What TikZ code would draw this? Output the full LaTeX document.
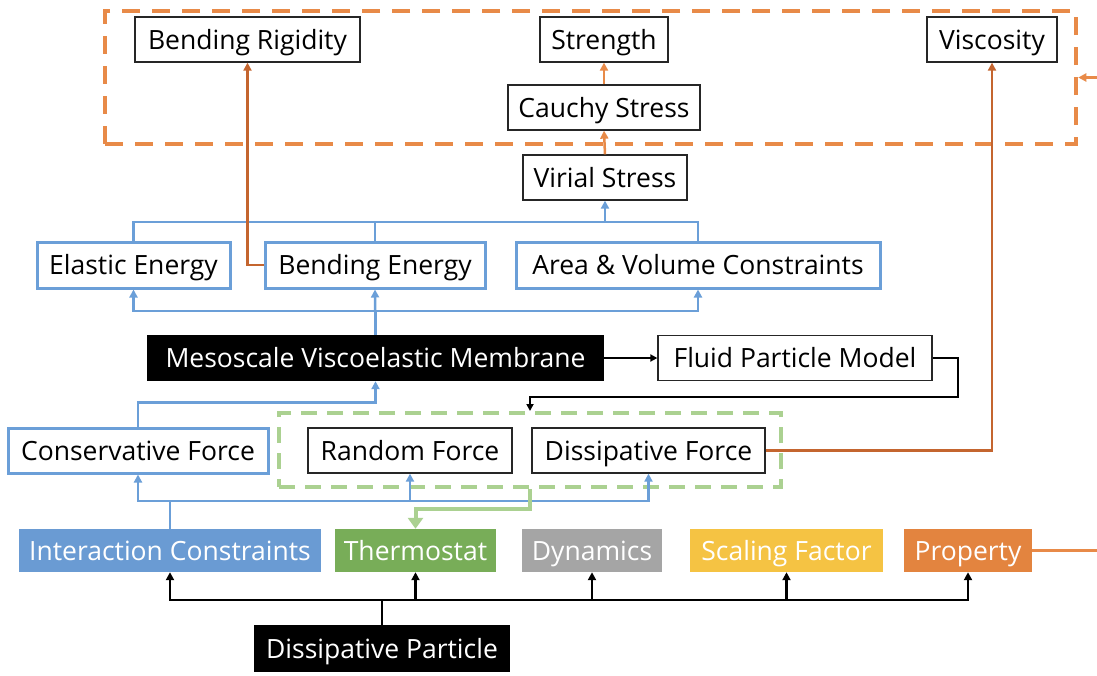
\documentclass[tikz,border=0pt]{standalone}
\usepackage{fontspec}
\setmainfont{Open Sans}
\usetikzlibrary{arrows.meta}
\definecolor{cblue}{HTML}{6A9BD3}
\definecolor{cbluel}{HTML}{6B9FD8}
\definecolor{cgreen}{HTML}{78AD58}
\definecolor{cgreenl}{HTML}{ABD191}
\definecolor{cgray}{HTML}{A5A5A5}
\definecolor{cyellow}{HTML}{F5C343}
\definecolor{corange}{HTML}{E3843F}
\definecolor{corangel}{HTML}{E88A48}
\definecolor{cdark}{HTML}{C4652F}
\begin{document}
\begin{tikzpicture}[x=1pt,y=-1pt,
  txt/.style={font=\fontsize{26.5}{30}\selectfont, text height=22pt, text depth=3pt},
  box/.style={txt, draw=black!85, line width=1.3pt, fill=white, inner sep=0pt, minimum height=45pt},
  bbox/.style={box, draw=cbluel, line width=3pt},
  fbox/.style={txt, draw=none, fill=#1, text=white, inner sep=0pt, minimum height=43pt},
  odash/.style={draw=corangel, line width=4.5pt, dash pattern=on 18pt off 12pt, inner sep=0pt},
  gdash/.style={draw=cgreenl, line width=4pt, dash pattern=on 16pt off 10pt, inner sep=0pt},
  arr/.style={-{Triangle[length=8pt,width=8pt]}},
  bl/.style={draw=cbluel, line width=2.5pt},
  blk/.style={draw=black, line width=2.5pt},
  ol/.style={draw=corangel, line width=2.5pt},
  dol/.style={draw=cdark, line width=2.5pt},
  gl/.style={draw=cgreenl, line width=4pt, -{Triangle[length=11pt,width=15pt]}}]
\clip (0,0) rectangle (1097,675);
\fill[white] (0,0) rectangle (1097,675);
% dashed groups
\node[odash, minimum width=971pt, minimum height=133pt] (ob) at (590.5,77.5) {};
\node[gdash, minimum width=502pt, minimum height=74pt] (gb) at (530,450) {};
% top boxes
\node[box, minimum width=225pt] (br) at (247.5,39.5) {Bending Rigidity};
\node[box, minimum width=128pt] (st) at (604,39.5) {Strength};
\node[box, minimum width=130pt] (vi) at (992,39.5) {Viscosity};
\node[box, minimum width=192pt] (cs) at (604,107.5) {Cauchy Stress};
\node[box, minimum width=164pt] (vs) at (605,177.5) {Virial Stress};
% energies
\node[bbox, minimum width=193pt, minimum height=46pt] (ee) at (133.5,265) {Elastic Energy};
\node[bbox, minimum width=220pt, minimum height=46pt] (be) at (375,265) {Bending Energy};
\node[bbox, minimum width=364pt, minimum height=46pt] (av) at (698,265) {Area \& Volume Constraints};
% membrane
\node[fbox=black, minimum width=457pt, minimum height=46pt] (mm) at (375.5,358) {Mesoscale Viscoelastic Membrane};
\node[box, minimum width=274pt] (fp) at (795,358) {Fluid Particle Model};
% forces
\node[bbox, minimum width=260pt] (cf) at (138,450.5) {Conservative Force};
\node[box, minimum width=204pt] (rf) at (410,450.5) {Random Force};
\node[box, minimum width=233pt] (df) at (648.5,450.5) {Dissipative Force};
% categories
\node[fbox=cblue, minimum width=302pt] (ic) at (170,550.5) {Interaction Constraints};
\node[fbox=cgreen, minimum width=161pt] (th) at (415.5,550.5) {Thermostat};
\node[fbox=cgray, minimum width=140pt] (dy) at (592,550.5) {Dynamics};
\node[fbox=cyellow, minimum width=193pt] (sf) at (786.5,550.5) {Scaling Factor};
\node[fbox=corange, minimum width=128pt] (pr) at (968,550.5) {Property};
\node[fbox=black, minimum width=256pt, minimum height=47pt] (dp) at (382,648.5) {Dissipative Particle};
% helper coordinates
\coordinate (kb) at (0,600);
\coordinate (bb) at (0,501);
\coordinate (eb) at (0,222);
\coordinate (fr) at (958,397);
% black bus
\foreach \n in {ic,th,dy,sf,pr}
  \draw[blk,arr] (dp.north) -- (dp.north |- kb) -| (\n.south);
% blue bus to forces
\foreach \n in {cf,rf,df}
  \draw[bl,arr] (ic.north) -- (ic.north |- bb) -| (\n.south);
% green thermostat link
\draw[gl] (gb.south) -- ++(0,20) -| (th.north);
% conservative force -> membrane
\draw[bl,arr] (cf.north) -- ++(0,-24) -| (mm.south);
% membrane -> energies
\draw[bl,arr] (mm.north) -- ++(0,-24) -| (ee.south);
\draw[bl,arr] (mm.north) -- ++(0,-24) -| (av.south);
\draw[bl,arr] (mm.north) -- (be.south);
% energies -> virial stress
\draw[bl] (ee.north) -- (ee.north |- eb) -| (av.north);
\draw[bl] (be.north) -- (be.north |- eb);
\draw[bl,arr] (vs.south |- eb) -- (vs.south);
% membrane -> fluid -> dpd forces
\draw[black, line width=2pt, -{Triangle[length=7pt,width=7pt]}] (mm.east) -- (fp.west);
\draw[black, line width=2pt, -{Triangle[length=7pt,width=7pt]}] (fp.east) -| (fr) -| (gb.north);
% stresses
\draw[ol,arr] (vs.north) -- (cs.south);
\draw[ol,arr] (cs.north) -- (st.south);
% properties
\draw[dol,arr] (be.west) -| (br.south);
\draw[dol,arr] (df.east) -| (vi.south);
\draw[ol,arr] (pr.east) -- (1112,550.5) |- (ob.east);
\end{tikzpicture}
\end{document}
